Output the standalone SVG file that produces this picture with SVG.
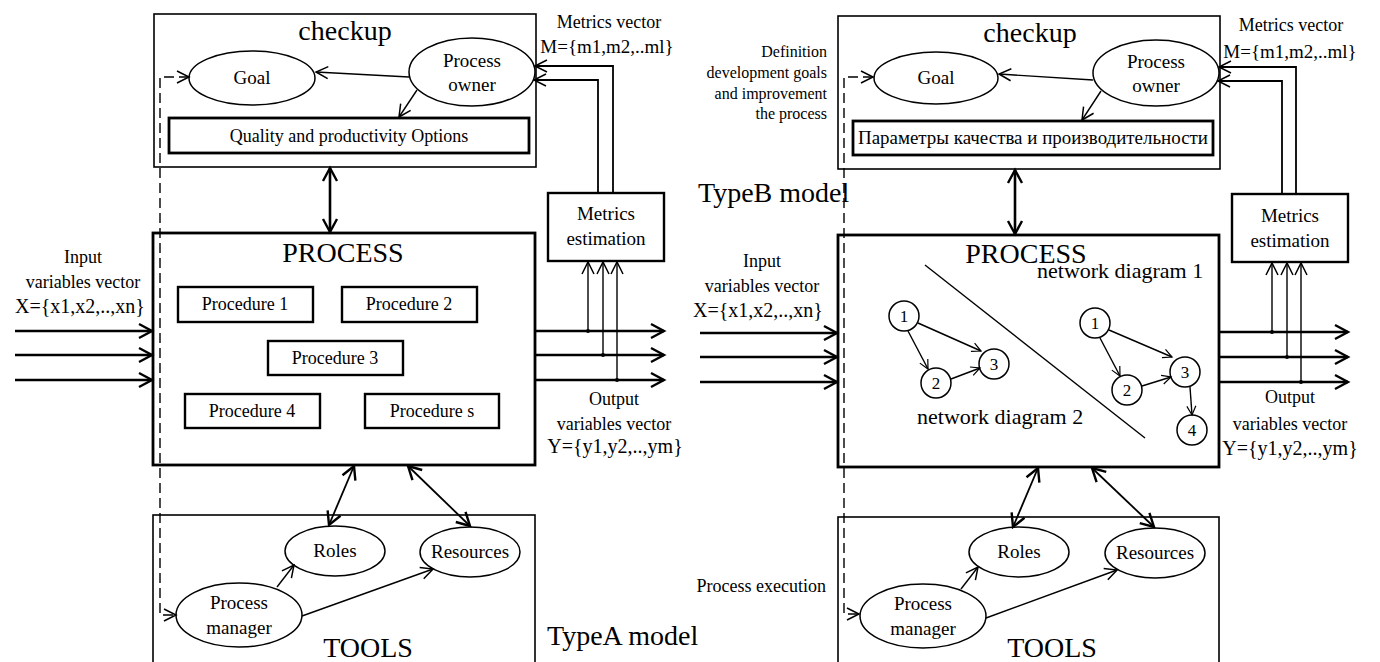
<svg xmlns="http://www.w3.org/2000/svg" width="1380" height="662" viewBox="0 0 1380 662">
<style>
text{font-family:"Liberation Serif","Times New Roman",serif;fill:#000;text-anchor:middle}
.t19{font-size:19px}.t18{font-size:18px}.t20{font-size:20px}.t16{font-size:16px}.t22{font-size:22px}.t28{font-size:28px}.t17{font-size:17px}
.box1{fill:none;stroke:#000;stroke-width:1.6}
.box2{fill:none;stroke:#000;stroke-width:2.4}
.box3{fill:none;stroke:#000;stroke-width:2.8}
.ell{fill:#fff;stroke:#000;stroke-width:1.5}
.thin{fill:none;stroke:#000;stroke-width:1.4}
.med{fill:none;stroke:#000;stroke-width:1.8}
.thick{fill:none;stroke:#000;stroke-width:2.6}
.dash{fill:none;stroke:#000;stroke-width:1.4;stroke-dasharray:10,5}
.r{text-anchor:end}.l{text-anchor:start}
</style>
<defs>
<marker id="ah" markerUnits="userSpaceOnUse" markerWidth="30" markerHeight="30" viewBox="-15 -15 30 30" refX="0" refY="0" orient="auto-start-reverse" overflow="visible">
<path d="M -12 -6 L 0 0 L -12 6" fill="none" stroke="#000" stroke-width="1.5"/>
</marker>
<marker id="ahT" markerUnits="userSpaceOnUse" markerWidth="30" markerHeight="30" viewBox="-15 -15 30 30" refX="0" refY="0" orient="auto-start-reverse" overflow="visible">
<path d="M -13 -7 L 0 0 L -13 7" fill="none" stroke="#000" stroke-width="2.4"/>
</marker>
<marker id="ahS" markerUnits="userSpaceOnUse" markerWidth="30" markerHeight="30" viewBox="-15 -15 30 30" refX="0" refY="0" orient="auto-start-reverse" overflow="visible">
<path d="M -9 -4.5 L 0 0 L -9 4.5" fill="none" stroke="#000" stroke-width="1.2"/>
</marker>
</defs>
<rect width="1380" height="662" fill="#fff"/>

<!-- ===== LEFT MODEL (Type A) ===== -->
<g id="A-checkup">
<rect class="box1" x="154" y="14" width="382" height="153"/>
<text class="t28" x="345" y="40">checkup</text>
</g>
<g id="A-goal"><ellipse class="ell" cx="252" cy="78" rx="63" ry="27"/><text class="t19" x="252" y="84">Goal</text></g>
<g id="A-owner"><ellipse class="ell" cx="472" cy="72" rx="63" ry="34"/><text class="t19" x="472" y="67">Process</text><text class="t19" x="472" y="91">owner</text></g>
<g id="A-quality"><rect class="box3" x="169" y="118" width="360" height="35"/><text class="t18" x="349" y="142">Quality and productivity Options</text></g>
<g id="A-metrics"><rect class="box2" x="548" y="193" width="116" height="68"/><text class="t19" x="606" y="220">Metrics</text><text class="t19" x="606" y="245">estimation</text></g>
<g id="A-metricsvec"><text class="t18" x="609" y="28">Metrics vector</text><text class="t19" x="607" y="53">M={m1,m2,..ml}</text></g>
<g id="A-process">
<rect class="box3" x="153" y="233" width="382" height="232"/>
<text class="t28" x="343" y="262">PROCESS</text>
</g>
<g id="A-proc1"><rect class="box2" x="178" y="287" width="135" height="35"/><text class="t18" x="245" y="310">Procedure 1</text></g>
<g id="A-proc2"><rect class="box2" x="342" y="287" width="135" height="35"/><text class="t18" x="409" y="310">Procedure 2</text></g>
<g id="A-proc3"><rect class="box2" x="268" y="341" width="135" height="34"/><text class="t18" x="335" y="364">Procedure 3</text></g>
<g id="A-proc4"><rect class="box2" x="185" y="394" width="135" height="34"/><text class="t18" x="252" y="417">Procedure 4</text></g>
<g id="A-procs"><rect class="box2" x="365" y="394" width="134" height="34"/><text class="t18" x="432" y="417">Procedure s</text></g>
<g id="A-input"><text class="t18" x="83" y="263">Input</text><text class="t18" x="83" y="288">variables vector</text><text class="t20" x="80" y="313">X={x1,x2,..,xn}</text></g>
<g id="A-output"><text class="t18" x="614" y="405">Output</text><text class="t18" x="614" y="430">variables vector</text><text class="t20" x="615" y="453">Y={y1,y2,..,ym}</text></g>
<g id="A-tools">
<rect class="box1" x="153" y="515" width="382" height="160"/>
<text class="t28" x="368" y="657">TOOLS</text>
</g>
<g id="A-roles"><ellipse class="ell" cx="335" cy="551" rx="50" ry="25"/><text class="t19" x="335" y="557">Roles</text></g>
<g id="A-resources"><ellipse class="ell" cx="470" cy="552" rx="50" ry="25"/><text class="t19" x="470" y="558">Resources</text></g>
<g id="A-manager"><ellipse class="ell" cx="239" cy="615" rx="63" ry="32"/><text class="t19" x="239" y="609">Process</text><text class="t19" x="239" y="634">manager</text></g>
<g id="A-label"><text class="t28 l" x="547" y="645">TypeA model</text></g>

<!-- ===== RIGHT MODEL (Type B) ===== -->
<g id="B-checkup">
<rect class="box1" x="838" y="16" width="382" height="153"/>
<text class="t28" x="1030" y="42">checkup</text>
</g>
<g id="B-goal"><ellipse class="ell" cx="936" cy="78" rx="62" ry="26"/><text class="t19" x="936" y="84">Goal</text></g>
<g id="B-owner"><ellipse class="ell" cx="1156" cy="73" rx="63" ry="33"/><text class="t19" x="1156" y="68">Process</text><text class="t19" x="1156" y="92">owner</text></g>
<g id="B-params"><rect class="box3" x="853" y="121" width="360" height="34"/><text class="t18" x="1033" y="144" textLength="350" lengthAdjust="spacingAndGlyphs">Параметры качества и производительности</text></g>
<g id="B-definition"><text class="t16 r" x="827" y="57">Definition</text><text class="t16 r" x="827" y="78">development goals</text><text class="t16 r" x="827" y="99">and improvement</text><text class="t16 r" x="827" y="119">the process</text></g>
<g id="B-metrics"><rect class="box2" x="1232" y="194" width="116" height="68"/><text class="t19" x="1290" y="222">Metrics</text><text class="t19" x="1290" y="247">estimation</text></g>
<g id="B-metricsvec"><text class="t18" x="1291" y="31">Metrics vector</text><text class="t19" x="1290" y="58">M={m1,m2,..ml}</text></g>
<g id="B-label"><text class="t28 l" x="698" y="202">TypeB model</text></g>
<g id="B-process">
<rect class="box3" x="838" y="235" width="381" height="232"/>
<text class="t28" x="1026" y="263">PROCESS</text>
<line class="thin" x1="925" y1="265" x2="1145" y2="438"/>
<text class="t22 l" x="1037" y="278">network diagram 1</text>
<text class="t22 l" x="917" y="424">network diagram 2</text>
</g>
<g id="B-n2-1"><circle class="ell" cx="904" cy="316" r="15"/><text class="t17" x="904" y="322">1</text></g>
<g id="B-n2-2"><circle class="ell" cx="936" cy="383" r="15"/><text class="t17" x="936" y="389">2</text></g>
<g id="B-n2-3"><circle class="ell" cx="994" cy="364" r="15"/><text class="t17" x="994" y="370">3</text></g>
<g id="B-n1-1"><circle class="ell" cx="1095" cy="323" r="15"/><text class="t17" x="1095" y="329">1</text></g>
<g id="B-n1-2"><circle class="ell" cx="1127" cy="390" r="15"/><text class="t17" x="1127" y="396">2</text></g>
<g id="B-n1-3"><circle class="ell" cx="1185" cy="372" r="15"/><text class="t17" x="1185" y="378">3</text></g>
<g id="B-n1-4"><circle class="ell" cx="1192" cy="430" r="15"/><text class="t17" x="1192" y="436">4</text></g>
<g id="B-input"><text class="t18" x="762" y="267">Input</text><text class="t18" x="762" y="292">variables vector</text><text class="t20" x="758" y="317">X={x1,x2,..,xn}</text></g>
<g id="B-output"><text class="t18" x="1290" y="403">Output</text><text class="t18" x="1290" y="430">variables vector</text><text class="t20" x="1290" y="455">Y={y1,y2,..,ym}</text></g>
<g id="B-tools">
<rect class="box1" x="838" y="517" width="381" height="160"/>
<text class="t28" x="1052" y="657">TOOLS</text>
</g>
<g id="B-roles"><ellipse class="ell" cx="1019" cy="552" rx="50" ry="25"/><text class="t19" x="1019" y="558">Roles</text></g>
<g id="B-resources"><ellipse class="ell" cx="1155" cy="553" rx="50" ry="25"/><text class="t19" x="1155" y="559">Resources</text></g>
<g id="B-manager"><ellipse class="ell" cx="923" cy="616" rx="63" ry="32"/><text class="t19" x="923" y="610">Process</text><text class="t19" x="923" y="635">manager</text></g>
<g id="B-exec"><text class="t18 r" x="826" y="592">Process execution</text></g>

<!-- ===== CONNECTORS ===== -->
<g id="connectors">
<!-- left -->
<path class="dash" d="M 189 77 H 160 V 615 H 176" marker-start="url(#ah)" marker-end="url(#ah)"/>
<line class="thin" x1="409" y1="77" x2="316" y2="72" marker-end="url(#ah)"/>
<line class="thin" x1="417" y1="90" x2="399" y2="117" marker-end="url(#ah)"/>
<path class="med" d="M 613 193 V 66 H 535" marker-end="url(#ah)"/>
<path class="med" d="M 598 193 V 80 H 534" marker-end="url(#ah)"/>
<line class="thick" x1="330" y1="168" x2="330" y2="232" marker-start="url(#ahT)" marker-end="url(#ahT)"/>
<line class="thick" x1="15" y1="331" x2="152" y2="331" marker-end="url(#ahT)"/>
<line class="thick" x1="15" y1="355" x2="152" y2="355" marker-end="url(#ahT)"/>
<line class="thick" x1="15" y1="380" x2="152" y2="380" marker-end="url(#ahT)"/>
<line class="thick" x1="536" y1="331" x2="664" y2="331" marker-end="url(#ahT)"/>
<line class="thick" x1="536" y1="355" x2="664" y2="355" marker-end="url(#ahT)"/>
<line class="thick" x1="536" y1="380" x2="664" y2="380" marker-end="url(#ahT)"/>
<line class="thin" x1="588" y1="331" x2="588" y2="262" marker-end="url(#ah)"/>
<line class="thin" x1="603" y1="355" x2="603" y2="262" marker-end="url(#ah)"/>
<line class="thin" x1="617" y1="380" x2="617" y2="262" marker-end="url(#ah)"/>
<circle cx="588" cy="331" r="2"/><circle cx="603" cy="355" r="2"/><circle cx="617" cy="380" r="2"/>
<line class="med" x1="354" y1="466" x2="329" y2="525" marker-start="url(#ahT)" marker-end="url(#ahT)"/>
<line class="med" x1="408" y1="466" x2="470" y2="526" marker-start="url(#ahT)" marker-end="url(#ahT)"/>
<line class="thin" x1="277" y1="587" x2="294" y2="565" marker-end="url(#ah)"/>
<line class="thin" x1="302" y1="616" x2="433" y2="569" marker-end="url(#ah)"/>
<!-- right -->
<path class="dash" d="M 873 77 H 844 V 614 H 859" marker-start="url(#ah)" marker-end="url(#ah)"/>
<line class="thin" x1="1093" y1="80" x2="999" y2="74" marker-end="url(#ah)"/>
<line class="thin" x1="1101" y1="91" x2="1082" y2="120" marker-end="url(#ah)"/>
<path class="med" d="M 1296 194 V 67 H 1219" marker-end="url(#ah)"/>
<path class="med" d="M 1282 194 V 81 H 1218" marker-end="url(#ah)"/>
<line class="thick" x1="1015" y1="170" x2="1015" y2="234" marker-start="url(#ahT)" marker-end="url(#ahT)"/>
<line class="thick" x1="700" y1="333" x2="837" y2="333" marker-end="url(#ahT)"/>
<line class="thick" x1="700" y1="357" x2="837" y2="357" marker-end="url(#ahT)"/>
<line class="thick" x1="700" y1="382" x2="837" y2="382" marker-end="url(#ahT)"/>
<line class="thick" x1="1220" y1="332" x2="1348" y2="332" marker-end="url(#ahT)"/>
<line class="thick" x1="1220" y1="357" x2="1348" y2="357" marker-end="url(#ahT)"/>
<line class="thick" x1="1220" y1="382" x2="1348" y2="382" marker-end="url(#ahT)"/>
<line class="thin" x1="1272" y1="332" x2="1272" y2="263" marker-end="url(#ah)"/>
<line class="thin" x1="1287" y1="357" x2="1287" y2="263" marker-end="url(#ah)"/>
<line class="thin" x1="1301" y1="382" x2="1301" y2="263" marker-end="url(#ah)"/>
<circle cx="1272" cy="332" r="2"/><circle cx="1287" cy="357" r="2"/><circle cx="1301" cy="382" r="2"/>
<line class="med" x1="1038" y1="468" x2="1013" y2="527" marker-start="url(#ahT)" marker-end="url(#ahT)"/>
<line class="med" x1="1092" y1="468" x2="1154" y2="527" marker-start="url(#ahT)" marker-end="url(#ahT)"/>
<line class="thin" x1="961" y1="589" x2="978" y2="567" marker-end="url(#ah)"/>
<line class="thin" x1="986" y1="618" x2="1117" y2="570" marker-end="url(#ah)"/>
<!-- network diagram 2 -->
<line class="thin" x1="918" y1="323" x2="981" y2="351" marker-end="url(#ahS)"/>
<line class="thin" x1="908" y1="331" x2="928" y2="369" marker-end="url(#ahS)"/>
<line class="thin" x1="951" y1="379" x2="980" y2="368" marker-end="url(#ahS)"/>
<!-- network diagram 1 -->
<line class="thin" x1="1109" y1="330" x2="1172" y2="357" marker-end="url(#ahS)"/>
<line class="thin" x1="1100" y1="338" x2="1120" y2="376" marker-end="url(#ahS)"/>
<line class="thin" x1="1142" y1="386" x2="1171" y2="377" marker-end="url(#ahS)"/>
<line class="thin" x1="1190" y1="387" x2="1192" y2="415" marker-end="url(#ahS)"/>
</g>
</svg>
